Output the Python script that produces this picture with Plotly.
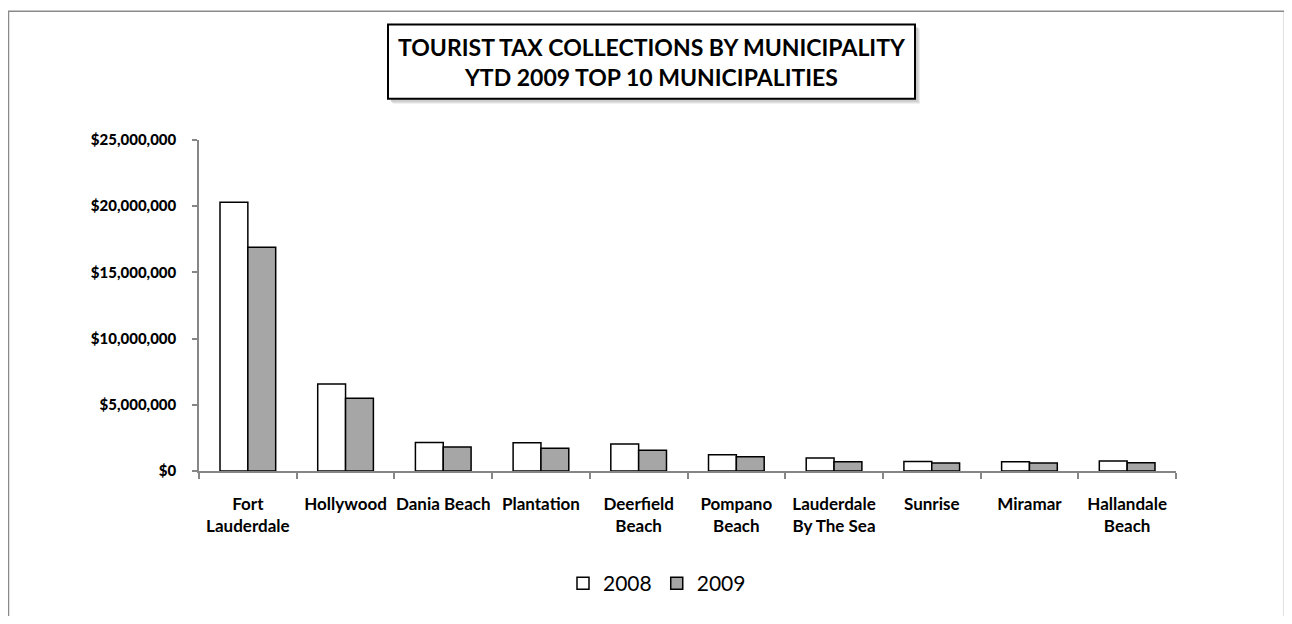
import plotly.graph_objects as go

categories = ["Fort<br>Lauderdale", "Hollywood", "Dania Beach", "Plantation", "Deerfield<br>Beach",
              "Pompano<br>Beach", "Lauderdale<br>By The Sea", "Sunrise", "Miramar", "Hallandale<br>Beach"]
values_2008 = [20300000, 6570000, 2160000, 2130000, 2040000, 1220000, 990000, 720000, 690000, 750000]
values_2009 = [16900000, 5500000, 1810000, 1720000, 1570000, 1070000, 690000, 600000, 600000, 620000]
y_ticks = [0, 5000000, 10000000, 15000000, 20000000, 25000000]

FONT = "Lato"
OFF = 8  # page body margin
W, H = 1278, 608
# plot area in screen pixels
SL, SR, ST, SB = 199, 1176, 140, 478
L, R, T, B = SL - OFF, SR - OFF, ST - OFF, SB - OFF


def px_x(p):
    return (p - SL) / (SR - SL)


def px_y(p):
    return (SB - p) / (SB - ST)


fig = go.Figure()
fig.add_trace(go.Bar(name="2008", x=categories, y=values_2008,
                     marker=dict(color="white", line=dict(color="black", width=1.5))))
fig.add_trace(go.Bar(name="2009", x=categories, y=values_2009,
                     marker=dict(color="#a6a6a6", line=dict(color="black", width=1.5))))

shapes = [
    dict(type="rect", xref="paper", yref="paper", x0=px_x(8.5), x1=px_x(1284.5), y0=px_y(640), y1=px_y(8.5),
         line=dict(color="#8a8a8a", width=1.5), fillcolor="rgba(0,0,0,0)", layer="below"),
]
for i, c in enumerate(["#ececec", "#dcdcdc", "#cccccc"]):
    off = 5 - i
    shapes.append(dict(type="rect", xref="paper", yref="paper",
                       x0=px_x(388 + off), x1=px_x(915 + off), y0=px_y(98 + off), y1=px_y(22 + off),
                       line=dict(width=0), fillcolor=c))
shapes.append(dict(type="rect", xref="paper", yref="paper", x0=px_x(388), x1=px_x(915),
                   y0=px_y(98), y1=px_y(22), line=dict(color="black", width=2), fillcolor="white"))

fig.update_layout(
    width=W, height=H,
    margin=dict(l=L, r=W - R, t=T, b=H - B, pad=0),
    paper_bgcolor="white", plot_bgcolor="white",
    barmode="group", bargap=0.43, bargroupgap=0,
    font=dict(family=FONT, color="black"),
    shapes=shapes,
    annotations=[dict(xref="paper", yref="paper", x=px_x(651.5), y=px_y(60),
                      text="<b>TOURIST TAX COLLECTIONS BY MUNICIPALITY<br>YTD 2009 TOP 10 MUNICIPALITIES</b>",
                      showarrow=False, font=dict(family=FONT, size=23, color="black"),
                      xanchor="center", yanchor="middle", align="center")],
    legend=dict(orientation="h", x=px_x(657), y=px_y(593), xanchor="center", yanchor="middle",
                font=dict(family=FONT, size=21, color="black"), itemwidth=30,
                bgcolor="rgba(0,0,0,0)"),
    xaxis=dict(showline=True, linecolor="#868686", linewidth=1.5, ticks="outside",
               tickson="boundaries", ticklen=6, tickcolor="#868686", tickwidth=1.5,
               tickfont=dict(family=FONT, size=17, color="black", weight="bold"), tickangle=0,
               ticklabelstandoff=17, showgrid=False, fixedrange=True),
    yaxis=dict(range=[0, 25000000], tickvals=y_ticks, tickformat="$,.0f",
               showline=True, linecolor="#868686", linewidth=1.5, ticks="outside",
               ticklen=5, tickcolor="#868686", tickwidth=1.5, showgrid=False, zeroline=False,
               tickfont=dict(family=FONT, size=15, color="black", weight=900), ticklabelstandoff=13),
)

fig.write_html("out.html")
